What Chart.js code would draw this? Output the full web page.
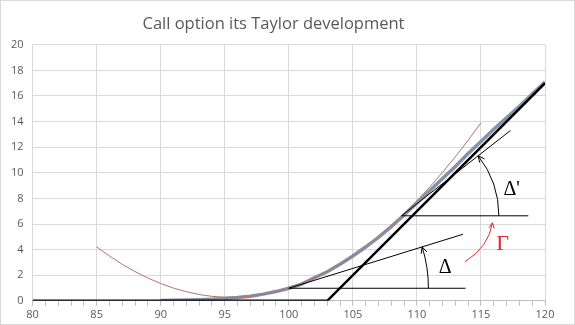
<!DOCTYPE html>
<html>
<head>
<meta charset="utf-8">
<script src="https://cdn.jsdelivr.net/npm/chart.js@4/dist/chart.umd.min.js"></script>
<style>
  html, body { margin: 0; padding: 0; background: #fff; }
  #wrap { position: relative; width: 575px; height: 325px; }
</style>
</head>
<body>
<div id="wrap"><canvas id="taylorChart"></canvas></div>
<script>
        // Option value curve
        const callSpot = [90, 91, 92, 93, 94, 95, 96, 97, 98, 99, 100, 101, 102, 103, 104, 105,
                          106, 107, 108, 109, 110, 111, 112, 113, 114, 115, 116, 117, 118, 119, 120];
        const callValue = [0.02, 0.04, 0.06, 0.09, 0.13, 0.18, 0.25, 0.36, 0.52, 0.72, 0.98, 1.3, 1.8, 2.27, 2.85, 3.5,
                           4.2, 4.95, 5.8, 6.7, 7.65, 8.6, 9.55, 10.5, 11.5, 12.45, 13.4, 14.3, 15.2, 16.15, 17.1];

        // Second order development around 100
        const taylorSpot = [85, 86, 87, 88, 89, 90, 91, 92, 93, 94, 95, 96, 97, 98, 99, 100,
                            101, 102, 103, 104, 105, 106, 107, 108, 109, 110, 111, 112, 113, 114, 115];
        const taylorValue = [4.21, 3.5, 2.85, 2.28, 1.78, 1.35, 0.99, 0.71, 0.49, 0.35, 0.28, 0.28, 0.35, 0.5, 0.71, 1.0,
                             1.36, 1.79, 2.29, 2.86, 3.51, 4.23, 5.02, 5.87, 6.81, 7.81, 8.89, 10.03, 11.25, 12.54, 13.9];

        // Payoff at expiry
        const payoffSpot = [80, 103, 120];
        const payoffValue = [0, 0, 17];

        // Tangent (delta) at 100 and its base
        const deltaSpot = [100, 113.6];
        const deltaValue = [0.98, 5.2];
        const deltaBaseSpot = [100, 113.8];
        const deltaBaseValue = [0.98, 0.98];

        // Tangent (delta') further up and its base
        const delta2Spot = [108.8, 117.3];
        const delta2Value = [6.64, 13.3];
        const delta2BaseSpot = [108.8, 118.7];
        const delta2BaseValue = [6.64, 6.64];

        // Axis ticks
        const xTicks = [80, 85, 90, 95, 100, 105, 110, 115, 120];
        const yTicks = [0, 2, 4, 6, 8, 10, 12, 14, 16, 18, 20];

        const toPoints = (xs, ys) => xs.map((x, i) => ({ x: x, y: ys[i] }));

        function lineSet(xs, ys, color, width, order) {
            return {
                data: toPoints(xs, ys),
                showLine: true,
                borderColor: color,
                borderWidth: width,
                pointRadius: 0,
                tension: 0,
                order: order
            };
        }

        // Angle markers, arrows and greek labels, placed in data units
        const marks = {
            arcs: [
                { cx: 100, cy: 0.98, r: 10.9, toX: 113.6, toY: 5.2 },
                { cx: 108.8, cy: 6.64, r: 7.6, toX: 117.3, toY: 13.3 }
            ],
            gamma: { from: [113.75, 3.05], ctrl: [115.6, 4.2], to: [115.9, 6.1] },
            labels: [
                { text: 'Δ', x: 112.2, y: 2.6, color: '#000', size: 20 },
                { text: 'Δ\'', x: 117.4, y: 8.7, color: '#000', size: 20 },
                { text: 'Γ', x: 116.7, y: 4.4, color: '#e0282e', size: 22 }
            ]
        };

        function arrowHead(ctx, tipX, tipY, angle, len) {
            ctx.beginPath();
            ctx.moveTo(tipX + len * Math.cos(angle + 0.45), tipY + len * Math.sin(angle + 0.45));
            ctx.lineTo(tipX, tipY);
            ctx.lineTo(tipX + len * Math.cos(angle - 0.45), tipY + len * Math.sin(angle - 0.45));
            ctx.stroke();
        }

        const annotate = {
            id: 'annotate',
            afterDatasetsDraw(chart) {
                const ctx = chart.ctx;
                const xs = chart.scales.x, ys = chart.scales.y;
                const px = v => xs.getPixelForValue(v);
                const py = v => ys.getPixelForValue(v);
                ctx.save();

                // angle arcs from the horizontal base up to the tangent
                ctx.strokeStyle = '#000';
                ctx.lineWidth = 1;
                marks.arcs.forEach(a => {
                    const cx = px(a.cx), cy = py(a.cy);
                    const r = px(a.cx + a.r) - cx;
                    const end = Math.atan2(py(a.toY) - cy, px(a.toX) - cx);
                    ctx.beginPath();
                    ctx.arc(cx, cy, r, 0, end, true);
                    ctx.stroke();
                    const tx = cx + r * Math.cos(end), ty = cy + r * Math.sin(end);
                    // direction of travel at the tip (counter clockwise)
                    arrowHead(ctx, tx, ty, end + Math.PI / 2, 7);
                });

                // gamma arrow
                const g = marks.gamma;
                ctx.strokeStyle = '#e0282e';
                ctx.beginPath();
                ctx.moveTo(px(g.from[0]), py(g.from[1]));
                ctx.quadraticCurveTo(px(g.ctrl[0]), py(g.ctrl[1]), px(g.to[0]), py(g.to[1]));
                ctx.stroke();
                const ga = Math.atan2(py(g.ctrl[1]) - py(g.to[1]), px(g.ctrl[0]) - px(g.to[0]));
                arrowHead(ctx, px(g.to[0]), py(g.to[1]), ga, 6);

                // labels
                ctx.textAlign = 'center';
                ctx.textBaseline = 'middle';
                marks.labels.forEach(l => {
                    ctx.fillStyle = l.color;
                    ctx.font = l.size + 'px "Liberation Serif", "DejaVu Serif", serif';
                    ctx.fillText(l.text, px(l.x), py(l.y));
                });
                ctx.restore();
            },
            afterDraw(chart) {
                const ctx = chart.ctx;
                ctx.save();
                ctx.strokeStyle = '#d9d9d9';
                ctx.lineWidth = 1;
                ctx.strokeRect(0.5, 0.5, chart.width - 1, chart.height - 1);
                ctx.restore();
            }
        };

        const labelColor = '#595959';

        new Chart(document.getElementById('taylorChart'), {
            type: 'scatter',
            data: {
                datasets: [
                    lineSet(payoffSpot, payoffValue, '#000000', 2.5, 1),
                    lineSet(deltaSpot, deltaValue, '#000000', 1, 2),
                    lineSet(deltaBaseSpot, deltaBaseValue, '#000000', 1, 2),
                    lineSet(delta2Spot, delta2Value, '#000000', 1, 2),
                    lineSet(delta2BaseSpot, delta2BaseValue, '#000000', 1, 2),
                    lineSet(taylorSpot, taylorValue, '#b5736c', 1, 3),
                    lineSet(callSpot, callValue, '#8590ab', 3.5, 4)
                ]
            },
            options: {
                responsive: true,
                maintainAspectRatio: false,
                animation: false,
                layout: { padding: { left: 2, right: 30, top: 0, bottom: 2 } },
                plugins: {
                    legend: { display: false },
                    tooltip: { enabled: false },
                    title: {
                        display: true,
                        text: 'Call option its Taylor development',
                        color: labelColor,
                        font: { family: 'Open Sans', size: 16.5, weight: 'normal' },
                        padding: { top: 14, bottom: 11 }
                    }
                },
                scales: {
                    x: {
                        type: 'linear',
                        min: 80,
                        max: 120,
                        afterBuildTicks: axis => {
                            axis.ticks = [];
                            for (let v = 80; v <= 120; v++) axis.ticks.push({ value: v });
                        },
                        ticks: {
                            autoSkip: false,
                            maxRotation: 0,
                            color: labelColor,
                            font: { family: 'Open Sans', size: 11 },
                            padding: 2,
                            callback: v => xTicks.includes(v) ? String(v) : ''
                        },
                        grid: {
                            color: c => xTicks.includes(c.tick.value) ? '#d9d9d9' : 'rgba(0,0,0,0)',
                            tickColor: '#bfbfbf',
                            tickLength: 5
                        },
                        border: { display: true, color: '#bfbfbf', width: 1 }
                    },
                    y: {
                        min: 0,
                        max: 20,
                        afterBuildTicks: axis => {
                            axis.ticks = yTicks.map(v => ({ value: v }));
                        },
                        ticks: {
                            color: labelColor,
                            font: { family: 'Open Sans', size: 11 },
                            padding: 9
                        },
                        grid: { color: '#d9d9d9', drawTicks: false },
                        border: { display: false }
                    }
                }
            },
            plugins: [annotate]
        });
</script>
</body>
</html>
